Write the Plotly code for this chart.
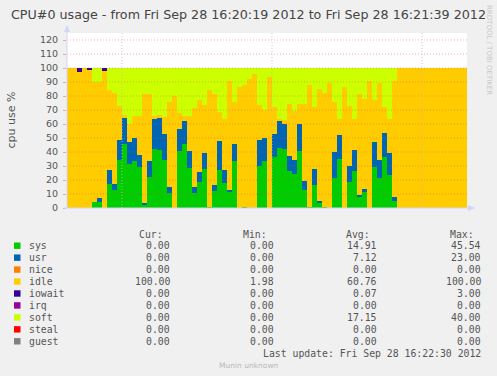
import plotly.graph_objects as go
from datetime import datetime, timedelta

# ---------------- data (one value per second, 80 s) ----------------
sys_vals = [0, 0, 0, 0, 0, 4, 4, 0, 17.4, 13, 34.5, 45.5, 31.5, 33.3, 29.5, 2.4,
            21.8, 42.4, 41.7, 34.5, 10.7, 0, 40.5, 45.5, 28.6, 10.7, 18.6, 28.1, 1, 11.9,
            27.4, 18.1, 11.4, 33.3, 0, 1, 0, 0, 29.8, 33.3, 0, 36.4, 42.9, 41.9, 26.2,
            24.5, 40.5, 13, 1, 16.7, 3.6, 1, 0, 21.4, 34.8, 0, 18.6, 26.4, 7.9, 11.9, 0,
            29.3, 21.7, 36.4, 23.3, 4.8,
            0, 0, 0, 0, 0, 0, 0, 0, 0, 0, 0, 0, 0, 0]
usr_vals = [0, 0, 0, 0, 0, 0, 3, 0, 9.6, 4, 14.3, 18.8, 16, 16.7, 8.5, 1.2,
            11.7, 21.4, 22.6, 18.5, 4.3, 0, 16.2, 16.5, 11.9, 4.3, 7.1, 11.2, 0, 4.8,
            20.5, 9.3, 1.6, 12.7, 0, 0, 0, 0, 19, 16.7, 0, 16.6, 18.9, 18.1, 10.7,
            10, 19.5, 6, 0, 11.3, 1.2, 0, 0, 18.6, 17.2, 0, 11.2, 14.8, 1.6, 1.4, 0,
            17.7, 12.8, 17.2, 16, 3.1,
            0, 0, 0, 0, 0, 0, 0, 0, 0, 0, 0, 0, 0, 0]
idle_vals = [100, 100, 97, 100, 99, 86, 83, 98, 57, 65, 23.8, 2.1, 12.5, 15.5, 28, 78.1,
             48.2, 2.2, 2.4, 12, 61, 80, 11.2, 4, 25.5, 56.4, 51.7, 34.5, 83.5, 65,
             20.7, 35.9, 77.7, 29.7, 86.4, 86.6, 92.4, 96, 24.5, 19.8, 93.6, 19, 2, 2.6, 37.6,
             34.5, 14.5, 55.5, 86.6, 44, 80.2, 81, 89.5, 35.7, 11.3, 86.4, 42.8, 22.6, 72.2, 64.7, 90.7,
             29.9, 54.8, 18.4, 24, 82.6,
             100, 100, 100, 100, 100, 100, 100, 100, 100, 100, 100, 100, 100, 100]
iowait_vals = [0, 0, 3, 0, 1, 0, 0, 2] + [0] * 72
soft_vals = [0, 0, 0, 0, 0, 10, 10, 0, 16, 18, 27.4, 33.6, 40, 34.5, 34, 18.3,
             18.3, 34, 33.3, 35, 24, 20, 32.1, 34, 34, 28.6, 22.6, 26.2, 15.5, 18.3,
             31.4, 36.7, 9.3, 24.3, 13.6, 12.4, 7.6, 4, 26.7, 30.2, 6.4, 28, 36.2, 37.4, 25.5,
             31, 25.5, 25.5, 12.4, 28, 15, 18, 10.5, 24.3, 36.7, 13.6, 27.4, 36.2, 18.3, 22, 9.3,
             23.1, 10.7, 28, 36.7, 9.5,
             0, 0, 0, 0, 0, 0, 0, 0, 0, 0, 0, 0, 0, 0]
zero_vals = [0] * 80

series_names = ["sys", "usr", "nice", "idle", "iowait", "irq", "soft", "steal", "guest"]
series_colors = ["#00CC00", "#0066B3", "#FF8000", "#FFCC00", "#330099",
                 "#990099", "#CCFF00", "#FF0000", "#808080"]
series_values = [sys_vals, usr_vals, zero_vals, idle_vals, iowait_vals,
                 zero_vals, soft_vals, zero_vals, zero_vals]

cur_vals = ["0.00", "0.00", "0.00", "100.00", "0.00", "0.00", "0.00", "0.00", "0.00"]
min_vals = ["0.00", "0.00", "0.00", "1.98", "0.00", "0.00", "0.00", "0.00", "0.00"]
avg_vals = ["14.91", "7.12", "0.00", "60.76", "0.07", "0.00", "17.15", "0.00", "0.00"]
max_vals = ["45.54", "23.00", "0.00", "100.00", "3.00", "0.00", "40.00", "0.00", "0.00"]

y_ticks = [0, 10, 20, 30, 40, 50, 60, 70, 80, 90, 100, 110, 120]
x_grid_times = ["2012-09-28 16:20:30", "2012-09-28 16:21:00", "2012-09-28 16:21:30"]

title_text = "CPU#0 usage - from Fri Sep 28 16:20:19 2012 to Fri Sep 28 16:21:39 2012"
start = datetime(2012, 9, 28, 16, 20, 19)
end = datetime(2012, 9, 28, 16, 21, 39)

# ---------------- layout geometry ----------------
W, H = 497, 376
L, R, T, B = 67, 30, 33, 168
PW = W - L - R
PH = H - T - B


def px(xp):
    return (xp - L) / PW


def py(yp):
    return (H - B - yp) / PH


times = [start + timedelta(seconds=i, milliseconds=500) for i in range(len(sys_vals))]

fig = go.Figure()
for name, color, vals in zip(series_names, series_colors, series_values):
    fig.add_trace(go.Bar(x=times, y=vals, name=name, width=1000,
                         marker=dict(color=color, line=dict(width=0)),
                         showlegend=False, hoverinfo="skip"))

shapes = []
# horizontal grid (drawn above data, like rrdtool)
for v in y_ticks[1:]:
    shapes.append(dict(type="line", xref="paper", yref="y", x0=0, x1=1, y0=v, y1=v,
                       line=dict(color="rgba(222,80,80,0.45)", width=1, dash="1px,2px"),
                       layer="above"))
# vertical grid
for t in x_grid_times:
    shapes.append(dict(type="line", xref="x", yref="paper", x0=t, x1=t, y0=0, y1=1,
                       line=dict(color="rgba(190,190,190,0.8)", width=1, dash="1px,2px"),
                       layer="above"))
axis_col = "#CFD6F8"
# axes with arrows
shapes.append(dict(type="line", xref="paper", yref="paper", x0=px(67), x1=px(67),
                   y0=py(208), y1=py(30), line=dict(color=axis_col, width=1), layer="above"))
shapes.append(dict(type="line", xref="paper", yref="paper", x0=px(64), x1=px(470),
                   y0=py(208), y1=py(208), line=dict(color=axis_col, width=1), layer="above"))
shapes.append(dict(type="path", xref="paper", yref="paper",
                   path=f"M {px(64)} {py(32)} L {px(70)} {py(32)} L {px(67)} {py(25)} Z",
                   fillcolor=axis_col, line=dict(width=0), layer="above"))
shapes.append(dict(type="path", xref="paper", yref="paper",
                   path=f"M {px(468)} {py(205)} L {px(468)} {py(211)} L {px(475)} {py(208)} Z",
                   fillcolor=axis_col, line=dict(width=0), layer="above"))

annotations = []
mono = "DejaVu Sans Mono"
txt_col = "#555555"
leg_size = 9.8

# title (centred on the whole image)
annotations.append(dict(text=title_text, x=px(248.5), y=py(14), xref="paper", yref="paper",
                        showarrow=False, xanchor="center", yanchor="middle",
                        font=dict(family="DejaVu Sans", size=12.7, color="#444444")))
# y-axis title
annotations.append(dict(text="cpu use %", x=px(10.5), y=py(120), xref="paper", yref="paper",
                        showarrow=False, textangle=-90, xanchor="center", yanchor="middle",
                        font=dict(family="DejaVu Sans", size=11, color=txt_col)))
# watermark
annotations.append(dict(text="RRDTOOL / TOBI OETIKER", x=px(489), y=py(50), xref="paper",
                        yref="paper", showarrow=False, textangle=90, xanchor="center",
                        yanchor="middle", font=dict(family="DejaVu Sans", size=7, color="#C8C8C8")))

# legend header
col_right = [172.3, 276.3, 379.3, 483.3]
hdr_left = [136.7, 240.7, 344.0, 447.7]
for lbl, xl in zip(["Cur:", "Min:", "Avg:", "Max:"], hdr_left):
    annotations.append(dict(text=lbl, x=px(xl), y=py(234.2), xref="paper", yref="paper",
                            showarrow=False, xanchor="left", yanchor="middle",
                            font=dict(family=mono, size=leg_size, color=txt_col)))

row0, dy = 245.7, 11.95
for i, (name, color) in enumerate(zip(series_names, series_colors)):
    yc = row0 + dy * i
    shapes.append(dict(type="rect", xref="paper", yref="paper",
                       x0=px(14), x1=px(20.5), y0=py(yc - 3.2), y1=py(yc + 3.2),
                       fillcolor=color, line=dict(width=0)))
    annotations.append(dict(text=name, x=px(26.5), y=py(yc), xref="paper", yref="paper",
                            showarrow=False, xanchor="left", yanchor="middle",
                            font=dict(family=mono, size=leg_size, color=txt_col)))
    for vals, xr in zip([cur_vals, min_vals, avg_vals, max_vals], col_right):
        annotations.append(dict(text=vals[i], x=px(xr), y=py(yc), xref="paper", yref="paper",
                                showarrow=False, xanchor="right", yanchor="middle",
                                font=dict(family=mono, size=leg_size, color=txt_col)))

annotations.append(dict(text="Last update: Fri Sep 28 16:22:30 2012", x=px(483.3), y=py(353.3),
                        xref="paper", yref="paper", showarrow=False, xanchor="right",
                        yanchor="middle", font=dict(family=mono, size=leg_size, color=txt_col)))
annotations.append(dict(text="Munin unknown", x=px(248.5), y=py(365.5), xref="paper", yref="paper",
                        showarrow=False, xanchor="center", yanchor="middle",
                        font=dict(family="DejaVu Sans", size=7.5, color="#B8B8B8")))

fig.update_layout(
    width=W, height=H,
    margin=dict(l=L, r=R, t=T, b=B, pad=0),
    paper_bgcolor="#F0F0F0", plot_bgcolor="#FFFFFF",
    barmode="stack", bargap=0,
    xaxis=dict(type="date", range=[start, end], showgrid=False, showticklabels=False,
               ticks="", zeroline=False, showline=False, fixedrange=True),
    yaxis=dict(range=[0, 125], tickvals=y_ticks, ticktext=[str(v) for v in y_ticks],
               showgrid=False, zeroline=False, showline=False, ticks="outside", ticklen=3,
               tickcolor="rgba(222,80,80,0.45)", ticklabelstandoff=3,
               tickfont=dict(family="DejaVu Sans", size=9.5, color=txt_col)),
    shapes=shapes, annotations=annotations,
)

fig.write_html("out.html")
